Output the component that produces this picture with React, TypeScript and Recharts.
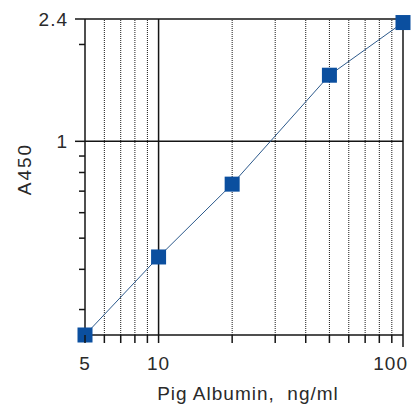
import { ComposedChart, Line, XAxis, YAxis, ReferenceLine, Label } from "recharts";

const concentrations = [5, 10, 20, 50, 100];
const absorbance = [0.25, 0.437, 0.736, 1.605, 2.34];

const xTicks = [5, 6, 7, 8, 9, 10, 20, 30, 40, 50, 60, 70, 80, 90, 100];
const xLabelled = [5, 10, 100];
const xDotted = [6, 7, 8, 9, 20, 30, 40, 50, 60, 70, 80, 90];
const xSolid = [10, 100];

const yTicks = [0.3, 0.4, 0.5, 0.6, 0.7, 0.8, 0.9, 1, 2, 2.4];
const yLabelled = [1, 2.4];
const ySolid = [1, 2.4];

const data = concentrations.map((x, i) => ({ x, y: absorbance[i] }));

const FONT = "'Liberation Sans', Arial, sans-serif";
const TEXT = "#2a2a2a";
const INK = "#151515";

const XTick = ({ x, y, payload }: any) => {
  const v = payload.value;
  const big = v === 100;
  return (
    <g>
      <line x1={x} x2={x} y1={y} y2={y + (big ? 12 : 8)} stroke={INK} strokeWidth={1.5} />
      {xLabelled.includes(v) && (
        <text
          x={big ? x + 5 : x}
          y={y + 35}
          textAnchor={big ? "end" : "middle"}
          fontSize={19}
          letterSpacing={1}
          fontFamily={FONT}
          fill={TEXT}
        >
          {v}
        </text>
      )}
    </g>
  );
};

const YTick = ({ x, y, payload }: any) => {
  const v = payload.value;
  const lab = yLabelled.includes(v);
  return (
    <g>
      <line x1={x - (lab ? 10 : 6)} x2={x} y1={y} y2={y} stroke={INK} strokeWidth={1.5} />
      {lab && (
        <text x={x - 17} y={y + 7} textAnchor="end" fontSize={19} letterSpacing={1} fontFamily={FONT} fill={TEXT}>
          {v}
        </text>
      )}
    </g>
  );
};

const SquareDot = ({ cx, cy, index }: any) => (
  <rect key={index} x={cx - 7.5} y={cy - 7.5} width={15} height={15} fill="#0b4f9f" />
);

const XTitle = ({ viewBox }: any) => (
  <text
    x={viewBox.x + viewBox.width / 2 + 4}
    y={400}
    textAnchor="middle"
    fontSize={19}
    letterSpacing={1}
    fontFamily={FONT}
    fill={TEXT}
  >
    {"Pig Albumin,\u00a0 ng/ml"}
  </text>
);

const YTitle = ({ viewBox }: any) => {
  const cx = 31;
  const cy = viewBox.y + viewBox.height / 2 - 8;
  return (
    <text
      x={cx}
      y={cy}
      transform={`rotate(-90 ${cx} ${cy})`}
      textAnchor="middle"
      fontSize={19}
      letterSpacing={2}
      fontFamily={FONT}
      fill={TEXT}
    >
      A450
    </text>
  );
};

export default function App() {
  return (
    <div style={{ position: "absolute", left: 0, top: 0, width: 420, height: 404, background: "#fff" }}>
      <ComposedChart width={420} height={404} data={data} margin={{ top: 19, right: 17, bottom: 0, left: 0 }}>
        <XAxis
          dataKey="x"
          type="number"
          scale="log"
          domain={[5, 100]}
          ticks={xTicks}
          interval={0}
          height={69}
          tickSize={0}
          tickMargin={0}
          tickLine={false}
          tick={<XTick />}
          axisLine={{ stroke: INK, strokeWidth: 1.5 }}
        >
          <Label content={<XTitle />} />
        </XAxis>
        <YAxis
          type="number"
          scale="log"
          domain={[0.25, 2.4]}
          ticks={yTicks}
          interval={0}
          width={85}
          tickSize={0}
          tickMargin={0}
          tickLine={false}
          tick={<YTick />}
          axisLine={{ stroke: INK, strokeWidth: 1.5 }}
        >
          <Label content={<YTitle />} />
        </YAxis>
        {xDotted.map((v) => (
          <ReferenceLine key={`xd${v}`} x={v} stroke="#1a1a1a" strokeWidth={1} strokeDasharray="1 1" />
        ))}
        {xSolid.map((v) => (
          <ReferenceLine key={`xs${v}`} x={v} stroke={INK} strokeWidth={1.5} />
        ))}
        {ySolid.map((v) => (
          <ReferenceLine key={`ys${v}`} y={v} stroke={INK} strokeWidth={1.5} />
        ))}
        <Line
          dataKey="y"
          type="linear"
          stroke="#2d5a8c"
          strokeWidth={1}
          dot={<SquareDot />}
          activeDot={false}
          isAnimationActive={false}
        />
      </ComposedChart>
    </div>
  );
}
